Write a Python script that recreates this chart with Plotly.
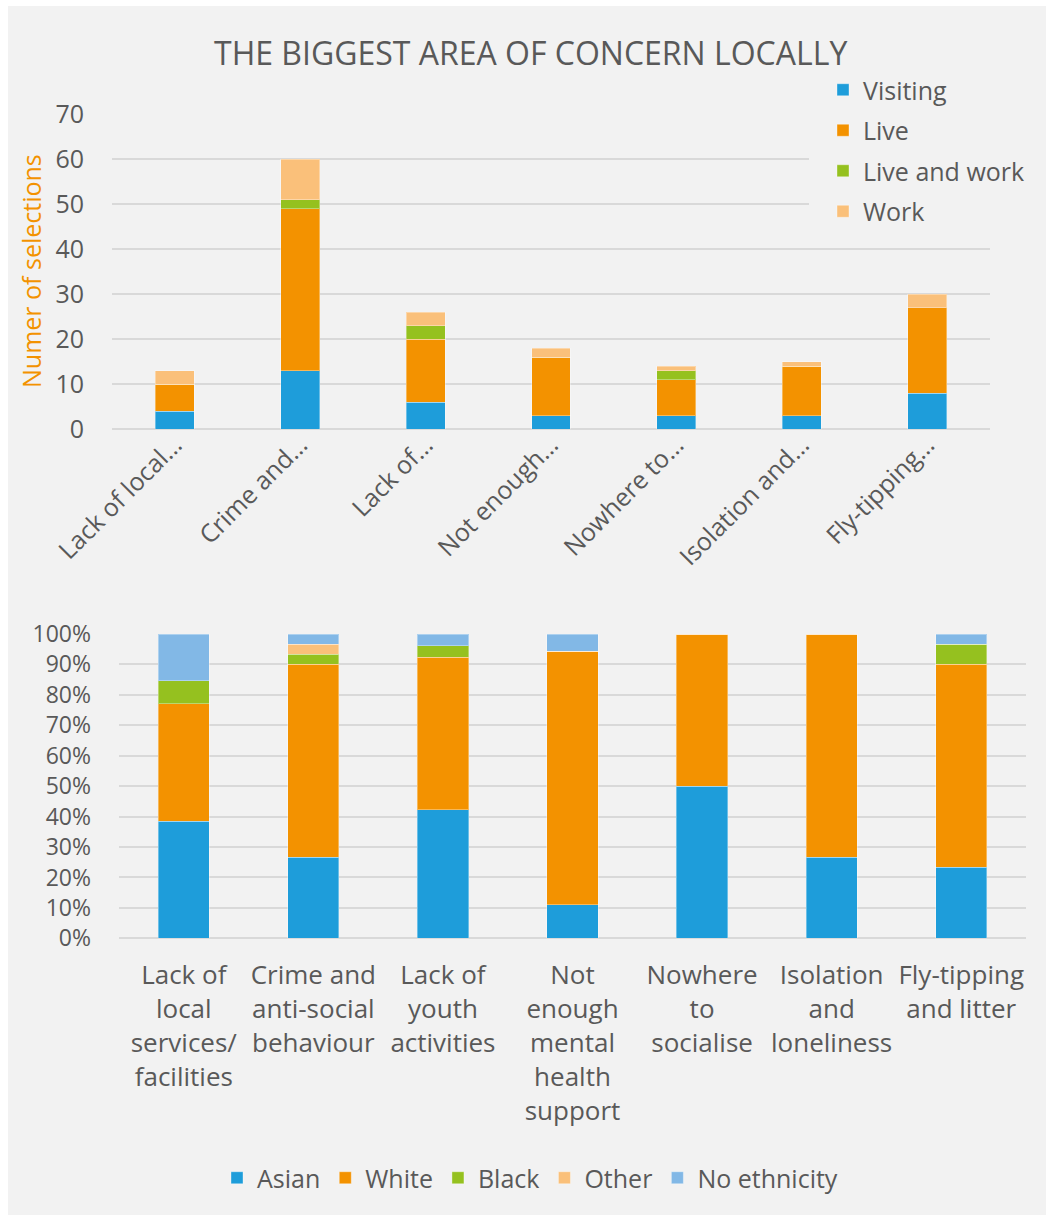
import plotly.graph_objects as go

W, H = 1046, 1215

# ---------------- data ----------------
top_categories = ["Lack of local…", "Crime and…", "Lack of…", "Not enough…",
                  "Nowhere to…", "Isolation and…", "Fly-tipping…"]
visiting = [4, 13, 6, 3, 3, 3, 8]
live = [6, 36, 14, 13, 8, 11, 19]
live_and_work = [0, 2, 3, 0, 2, 0, 0]
work = [3, 9, 3, 2, 1, 1, 3]

bottom_categories = ["Lack of<br>local<br>services/<br>facilities",
                     "Crime and<br>anti-social<br>behaviour",
                     "Lack of<br>youth<br>activities",
                     "Not<br>enough<br>mental<br>health<br>support",
                     "Nowhere<br>to<br>socialise",
                     "Isolation<br>and<br>loneliness",
                     "Fly-tipping<br>and litter"]
asian_pct = [38.5, 26.7, 42.3, 11.1, 50.0, 26.7, 23.3]
white_pct = [38.5, 63.3, 50.0, 83.3, 50.0, 73.3, 66.7]
black_pct = [7.7, 3.3, 3.8, 0, 0, 0, 6.7]
other_pct = [0, 3.3, 0, 0, 0, 0, 0]
no_eth_pct = [15.3, 3.4, 3.9, 5.6, 0, 0, 3.3]

top_tickvals = [0, 10, 20, 30, 40, 50, 60, 70]
bottom_tickvals = [0, 10, 20, 30, 40, 50, 60, 70, 80, 90, 100]
bottom_ticktext = ["0%", "10%", "20%", "30%", "40%", "50%", "60%", "70%",
                   "80%", "90%", "100%"]

# ---------------- style ----------------
BLUE = "#1E9DDA"
ORANGE = "#F39200"
GREEN = "#95C11F"
LORANGE = "#FAC07A"
LBLUE = "#82B8E6"
BG = "#F2F2F2"
GRID = "#D9D9D9"
TXT = "#595959"
FONT = "Open Sans"


def px(x):
    return x / W


def py(y):
    return 1 - y / H


fig = go.Figure()

top_series = [("Visiting", visiting, BLUE), ("Live", live, ORANGE),
              ("Live and work", live_and_work, GREEN), ("Work", work, LORANGE)]
for name, vals, col in top_series:
    fig.add_trace(go.Bar(
        x=top_categories, y=vals, name=name, xaxis="x", yaxis="y",
        marker=dict(color=col, line=dict(color="rgba(255,255,255,0.35)", width=1)),
        width=0.31, legend="legend", legendgroup=name,
    ))

bottom_series = [("Asian", asian_pct, BLUE), ("White", white_pct, ORANGE),
                 ("Black", black_pct, GREEN), ("Other", other_pct, LORANGE),
                 ("No ethnicity", no_eth_pct, LBLUE)]
for name, vals, col in bottom_series:
    fig.add_trace(go.Bar(
        x=bottom_categories, y=vals, name=name, xaxis="x2", yaxis="y2",
        marker=dict(color=col, line=dict(color="rgba(255,255,255,0.35)", width=1)),
        width=0.395, legend="legend2",
    ))

axis_font = dict(family=FONT, size=25, color=TXT)

fig.update_layout(
    width=W, height=H,
    margin=dict(l=0, r=0, t=0, b=0, autoexpand=False),
    paper_bgcolor="white",
    plot_bgcolor="rgba(0,0,0,0)",
    barmode="stack",
    font=dict(family=FONT, size=25, color=TXT),
    xaxis=dict(domain=[px(112), px(990)], anchor="y", range=[-0.5, 6.5],
               tickangle=-45, tickfont=axis_font, showgrid=False,
               showline=False, ticks="", ticklabelstandoff=-5,
               automargin=False, fixedrange=True),
    yaxis=dict(domain=[py(429.3), py(114)], anchor="x", range=[0, 70],
               tickvals=top_tickvals, tickfont=axis_font, showgrid=True,
               gridcolor=GRID, gridwidth=1.5, zeroline=True, zerolinecolor=GRID,
               zerolinewidth=1.5, ticks="", ticklabelstandoff=27,
               automargin=False),
    xaxis2=dict(domain=[px(119), px(1026)], anchor="y2", range=[-0.5, 6.5],
                tickfont=dict(family=FONT, size=26, color=TXT), showgrid=False,
                showline=False, ticks="", ticklabelstandoff=19, automargin=False),
    yaxis2=dict(domain=[py(938.3), py(634)], anchor="x2", range=[0, 100],
                tickmode="array", tickvals=bottom_tickvals, ticktext=bottom_ticktext,
                tickfont=dict(family=FONT, size=23, color=TXT),
                showgrid=True, gridcolor=GRID, gridwidth=1.5, zeroline=True,
                zerolinecolor=GRID, zerolinewidth=1.5, ticks="",
                ticklabelstandoff=27, automargin=False),
    legend=dict(x=px(823), y=py(67), xanchor="left", yanchor="top",
                orientation="v", bgcolor="rgba(0,0,0,0)",
                font=dict(family=FONT, size=25, color=TXT),
                traceorder="grouped", tracegroupgap=5, itemclick=False),
    legend2=dict(x=px(530), y=py(1178), xanchor="center", yanchor="middle",
                 orientation="h", bgcolor="rgba(0,0,0,0)", traceorder="normal",
                 font=dict(family=FONT, size=25, color=TXT), itemclick=False),
    shapes=[
        dict(type="rect", xref="paper", yref="paper", x0=px(8), x1=1,
             y0=0, y1=py(6), fillcolor=BG, line=dict(width=0), layer="below"),
        dict(type="rect", xref="paper", yref="paper", x0=px(809), x1=px(1000),
             y0=py(235), y1=py(70), fillcolor=BG, line=dict(width=0), layer="above"),
    ],
    annotations=[
        dict(text="THE BIGGEST AREA OF CONCERN LOCALLY", xref="paper", yref="paper",
             x=px(530), y=py(52), xanchor="center", yanchor="middle", showarrow=False,
             font=dict(family=FONT, size=32, color=TXT)),
        dict(text="Numer of selections", xref="paper", yref="paper",
             x=px(31), y=py(271), xanchor="center", yanchor="middle", showarrow=False,
             textangle=-90, font=dict(family=FONT, size=25, color=ORANGE)),
    ],
)

fig.write_html("out.html", config={"displayModeBar": False},
               post_script="document.body.style.margin='0';document.body.style.overflow='hidden';")
